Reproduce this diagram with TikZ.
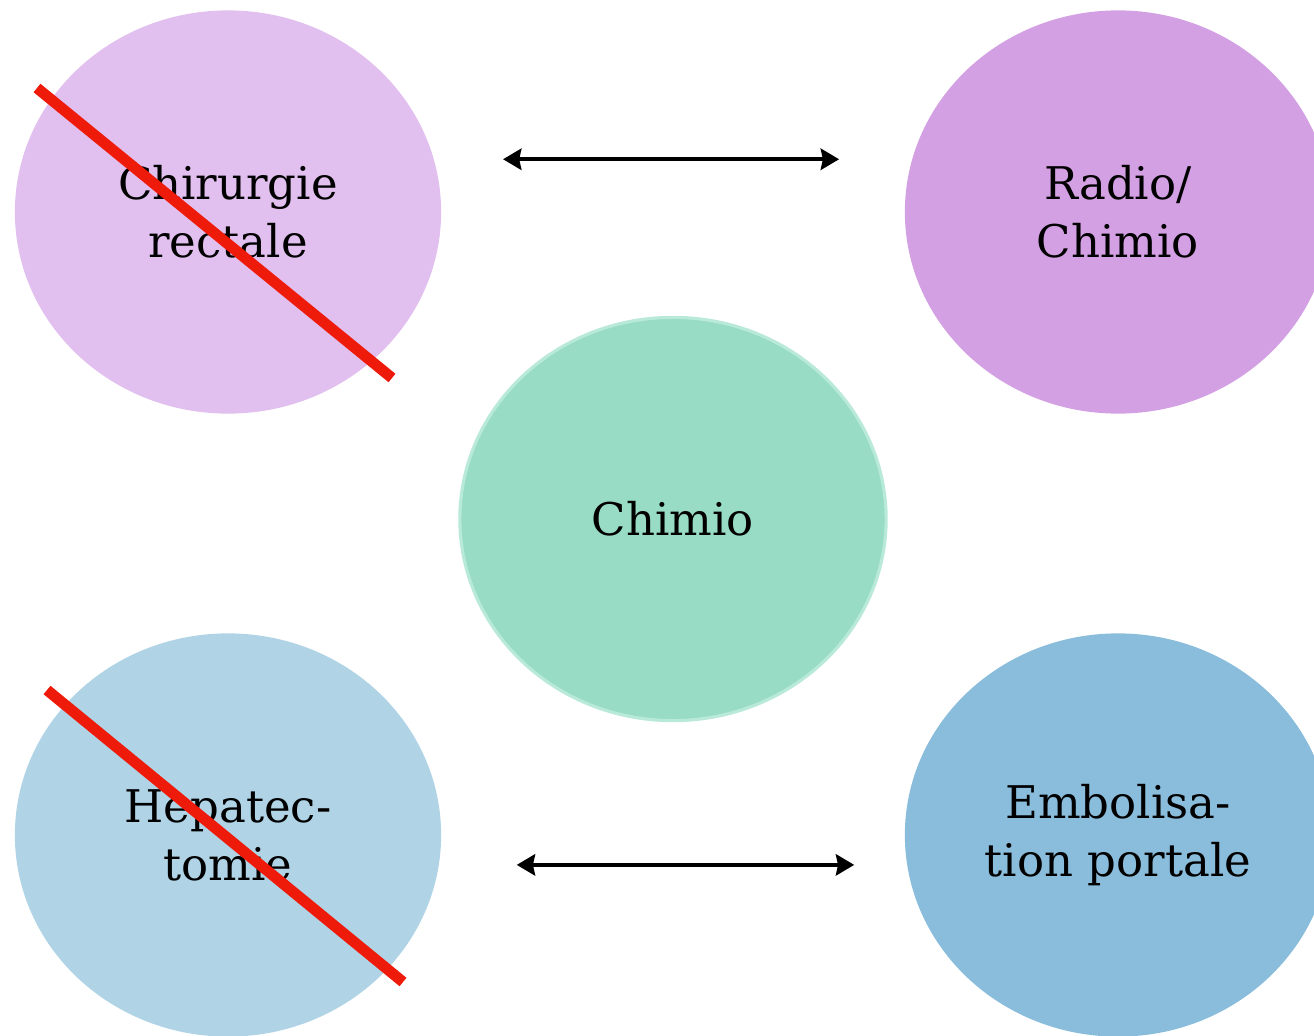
\documentclass[tikz,border=0pt]{standalone}
\usepackage{fontspec}
\setmainfont{DejaVu Serif}
\usetikzlibrary{shapes.geometric,arrows.meta,calc}

\definecolor{mauvel}{HTML}{E1BFEE}
\definecolor{mauved}{HTML}{D3A0E3}
\definecolor{vert}{HTML}{98DCC6}
\definecolor{vertb}{HTML}{B9E9D9}
\definecolor{bleul}{HTML}{B0D4E6}
\definecolor{bleud}{HTML}{8ABDDC}
\definecolor{rouge}{HTML}{EE1A0A}

\tikzset{
  bulle/.style={ellipse, minimum width=426\un, minimum height=403\un, inner sep=0pt,
    align=center, font=\fontsize{12.8}{16.5}\selectfont},
  fleche/.style={{Stealth[length=5.2pt,width=6pt,inset=0.6pt]}-{Stealth[length=5.2pt,width=6pt,inset=0.6pt]}, line width=1.15pt},
  barre/.style={rouge, line width=3.1pt}
}
\newcommand{\un}{mm*0.1}

\begin{document}
\begin{tikzpicture}[x=0.01cm, y=-0.01cm]

      \useasboundingbox (0,0) rectangle (1314,1036);
      \clip (0,0) rectangle (1314,1036);

      \node[bulle, fill=mauvel] (chir) at (228,212) {Chirurgie\\rectale};
      \node[bulle, fill=mauved] (radio) at (1118,212) {Radio/\\Chimio};
      \node[bulle, fill=vert, draw=vertb, line width=0.9pt] (chimio) at (673,519) {Chimio};
      \node[bulle, fill=bleul] (hepat) at (228,835) {Hepatec-\\tomie};
      \node[bulle, fill=bleud] (embol) at (1118,835) {Embolisa-\\tion portale};

      \draw[fleche, shorten <=17.4pt, shorten >=18.5pt] ([yshift=15pt]chir.east) -- ([yshift=15pt]radio.west);
      \draw[fleche, shorten <=21.3pt, shorten >=14.2pt] ([yshift=-8.5pt]hepat.east) -- ([yshift=-8.5pt]embol.west);

      \draw[barre] (37,88) -- (392,378);
      \draw[barre] (47,690) -- (403,982);

    \end{tikzpicture}
\end{document}
